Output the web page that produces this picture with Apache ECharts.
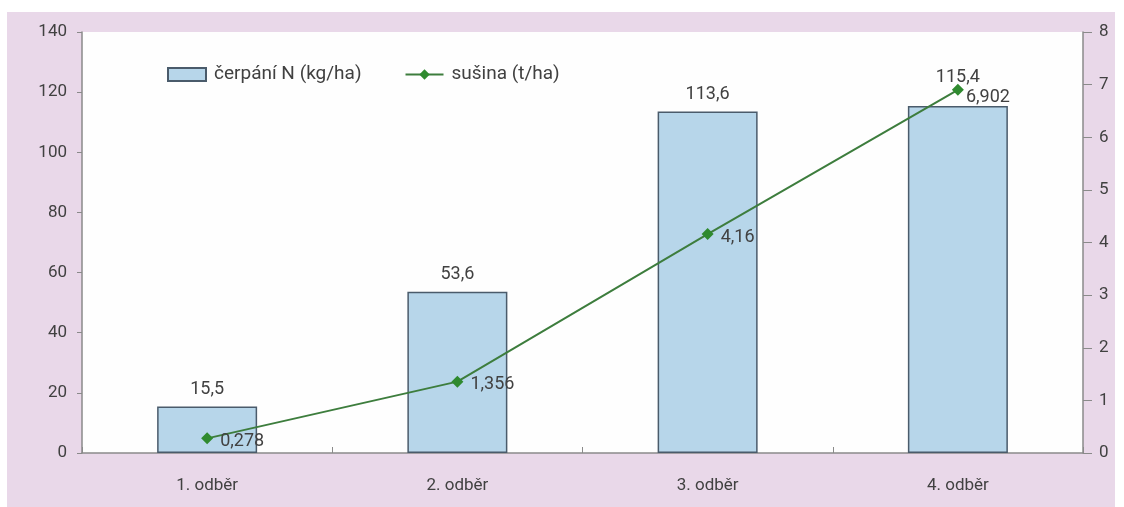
<!DOCTYPE html>
<html>
<head>
<meta charset="utf-8">
<script src="https://cdn.jsdelivr.net/npm/echarts@6/dist/echarts.min.js"></script>
<style>
  html, body { margin: 0; padding: 0; background: #ffffff; }
  #chart { width: 1124px; height: 507px; }
</style>
</head>
<body>
<div id="chart"></div>
<script>
// Odběry a naměřené hodnoty
const categories = ['1. odběr', '2. odběr', '3. odběr', '4. odběr'];
const cerpaniN = [15.5, 53.6, 113.6, 115.4];      // kg/ha
const susina = [0.278, 1.356, 4.16, 6.902];        // t/ha
const leftTicks = { min: 0, max: 140, interval: 20 };
const rightTicks = { min: 0, max: 8, interval: 1 };

const FONT = 'Roboto, "Open Sans", sans-serif';
const TXT = '#414141';
const comma = v => String(v).replace('.', ',');

// poslední sloupec má popisek posunutý výš, aby nekolidoval s bodem čáry
const barData = cerpaniN.map((v, i) => i === cerpaniN.length - 1
  ? { value: v, label: { distance: 19 } }
  : v);
const lineData = susina.map((v, i) => i === susina.length - 1
  ? { value: v, label: { offset: [-5, 8] } }
  : v);

const chart = echarts.init(document.getElementById('chart'), null, { renderer: 'canvas' });

chart.setOption({
  backgroundColor: '#ffffff',
  animation: false,
  textStyle: { fontFamily: FONT, color: TXT },
  graphic: [{
    type: 'rect', z: -10, silent: true,
    shape: { x: 7, y: 12, width: 1108, height: 495 },
    style: { fill: '#e9d8e9' }
  }, {
    type: 'rect', z: -9, silent: true,
    shape: { x: 82, y: 32, width: 1001, height: 421 },
    style: { fill: '#fefefe' }
  }],
  legend: {
    left: 162, top: 60, itemGap: 43, itemWidth: 38, itemHeight: 13,
    textStyle: { fontFamily: FONT, fontSize: 19, color: TXT, padding: [0, 0, 0, 3] },
    data: [
      { name: 'čerpání N (kg/ha)', icon: 'rect' },
      { name: 'sušina (t/ha)' }
    ]
  },
  grid: { left: 82, right: 41, top: 32, bottom: 54, containLabel: false },
  xAxis: {
    type: 'category', data: categories,
    axisLine: { lineStyle: { color: '#8a8a8a', width: 1.5 } },
    axisTick: { show: true, inside: true, length: 6, lineStyle: { color: '#8a8a8a' } },
    axisLabel: { fontFamily: FONT, fontSize: 17, color: TXT, margin: 24 }
  },
  yAxis: [{
    type: 'value', position: 'left', ...leftTicks,
    axisLine: { show: true, lineStyle: { color: '#8a8a8a', width: 1.5 } },
    axisTick: { show: true, length: 5, lineStyle: { color: '#8a8a8a' } },
    splitLine: { show: false },
    axisLabel: { fontFamily: FONT, fontSize: 17, color: TXT, margin: 15 }
  }, {
    type: 'value', position: 'right', ...rightTicks,
    axisLine: { show: true, lineStyle: { color: '#8a8a8a', width: 1.5 } },
    axisTick: { show: true, length: 9, lineStyle: { color: '#8a8a8a' } },
    splitLine: { show: false },
    axisLabel: { fontFamily: FONT, fontSize: 17, color: TXT, margin: 16 }
  }],
  series: [{
    name: 'čerpání N (kg/ha)', type: 'bar', yAxisIndex: 0,
    data: barData, barWidth: 100,
    itemStyle: { color: '#b7d6ea', borderColor: '#4a5b6b', borderWidth: 1.5 },
    label: {
      show: true, position: 'top', distance: 8,
      fontFamily: FONT, fontSize: 18, color: TXT,
      formatter: p => comma(p.value)
    }
  }, {
    name: 'sušina (t/ha)', type: 'line', yAxisIndex: 1,
    data: lineData,
    symbol: 'diamond', symbolSize: 12,
    lineStyle: { color: '#3d7d3d', width: 2 },
    itemStyle: { color: '#2f8a2f' },
    label: {
      show: true, position: 'right', distance: 7, offset: [0, 3],
      fontFamily: FONT, fontSize: 18, color: TXT,
      formatter: p => comma(p.value)
    },
    z: 5
  }]
});
</script>
</body>
</html>
